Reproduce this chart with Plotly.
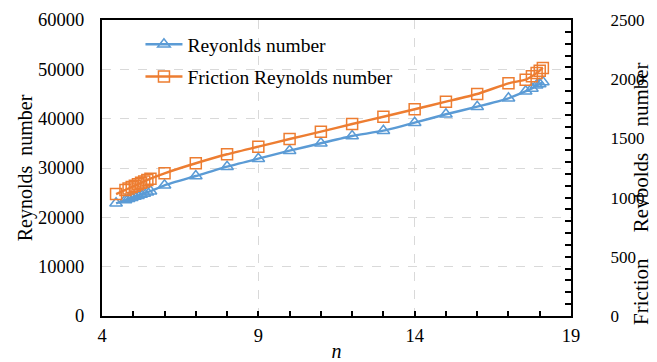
import plotly.graph_objects as go

n_values = [4.45, 4.75, 4.85, 4.95, 5.05, 5.15, 5.25, 5.35, 5.45, 5.55,
            6, 7, 8, 9, 10, 11, 12, 13, 14, 15, 16, 17,
            17.55, 17.75, 17.9, 18.0, 18.1]
reynolds = [22850, 23500, 23750, 23950, 24200, 24400, 24650, 24850, 25100, 25300,
            26500, 28380, 30270, 31890, 33510, 35010, 36490, 37560, 39180, 40890, 42430, 44130,
            45550, 46100, 46770, 47030, 47440]
friction_re = [1030, 1065, 1077, 1089, 1101, 1113, 1125, 1137, 1149, 1160,
               1205, 1290, 1366, 1430, 1495, 1557, 1622, 1683, 1746, 1810, 1875, 1965,
               1996, 2025, 2052, 2072, 2095]

x_ticks = [4, 9, 14, 19]
y1_ticks = [0, 10000, 20000, 30000, 40000, 50000, 60000]
y2_ticks = [0, 500, 1000, 1500, 2000, 2500]

BLUE = "#5B9BD5"
ORANGE = "#ED7D31"
FONT = "Liberation Serif"
NB = "\u00a0"

fig = go.Figure()
fig.add_trace(go.Scatter(
    x=n_values, y=reynolds, name="Reyonlds number", mode="lines+markers",
    line=dict(color=BLUE, width=2.4, shape="spline", smoothing=0.5),
    marker=dict(symbol="triangle-up-open", size=11, color=BLUE, line=dict(width=1.5, color=BLUE)),
    legendgroup="a", yaxis="y",
))
fig.add_trace(go.Scatter(
    x=n_values, y=friction_re, name="Friction Reynolds number", mode="lines+markers",
    line=dict(color=ORANGE, width=2.4, shape="spline", smoothing=0.5),
    marker=dict(symbol="square-open", size=11, color=ORANGE, line=dict(width=1.5, color=ORANGE)),
    legendgroup="b", yaxis="y2",
))

# page body has an 8px margin, so the figure is sized/offset to compensate
fig.update_layout(
    width=649, height=354,
    margin=dict(l=94, r=86, t=12, b=46),
    plot_bgcolor="white", paper_bgcolor="white",
    font=dict(family=FONT, size=18.5, color="black"),
    showlegend=True,
    legend=dict(x=0.082, y=0.983, xanchor="left", yanchor="top",
                bgcolor="rgba(255,255,255,0)", font=dict(size=19.5, family=FONT),
                itemwidth=37, tracegroupgap=4, traceorder="grouped"),
    xaxis=dict(range=[4, 19], tickvals=x_ticks, ticktext=[str(v) for v in x_ticks],
               showgrid=True, gridcolor="#D9D9D9", griddash="dash", gridwidth=1,
               showline=True, linecolor="black", linewidth=2, mirror=True,
               ticks="inside", ticklen=5, tickcolor="black", tickwidth=1.5,
               minor=dict(dtick=1, ticks="inside", ticklen=5, tickcolor="black", tickwidth=1.5, showgrid=False),
               zeroline=False, automargin=False, ticklabelstandoff=2,
               title=dict(text="<i>n</i>", standoff=8, font=dict(size=20))),
    yaxis=dict(range=[0, 60000], tickvals=y1_ticks, ticktext=[str(v) for v in y1_ticks],
               showgrid=True, gridcolor="#D9D9D9", griddash="dash", gridwidth=1,
               showline=True, linecolor="black", linewidth=2,
               ticks="", zeroline=False, ticklabelstandoff=12, automargin=False,
               title=dict(text="Reynolds  number", standoff=0, font=dict(size=20))),
    yaxis2=dict(range=[0, 2500], tickvals=y2_ticks, ticktext=[str(v) for v in y2_ticks],
                overlaying="y", side="right", showgrid=False,
                showline=True, linecolor="black", linewidth=2,
                ticks="inside", ticklen=6, tickcolor="black", tickwidth=1.5,
                minor=dict(dtick=100, ticks="inside", ticklen=6, tickcolor="black", tickwidth=1.5),
                zeroline=False, ticklabelstandoff=34, automargin=False,
                tickfont=dict(size=17, family=FONT)),
    annotations=[dict(
        text="Friction" + NB * 5 + "Reybolds" + NB * 5 + "number",
        xref="paper", yref="paper", x=1.149, y=0.412,
        xanchor="center", yanchor="middle", textangle=-90, showarrow=False,
        font=dict(size=21, family=FONT, color="black"),
    )],
)

fig.write_html("out.html")
